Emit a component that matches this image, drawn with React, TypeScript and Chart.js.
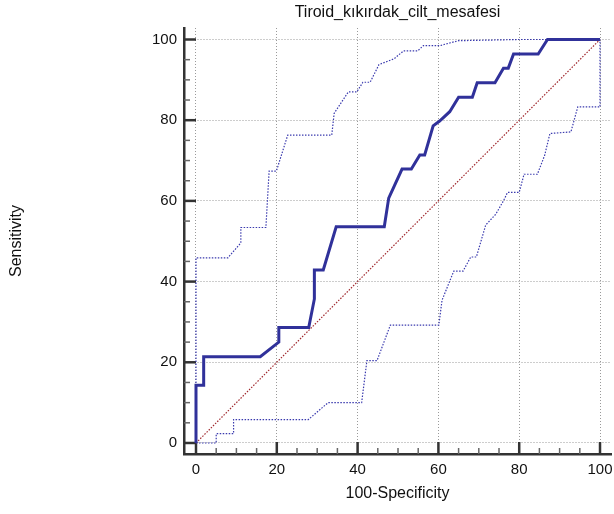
import React, { useEffect, useRef } from "react";
import { Chart, registerables } from "chart.js";

Chart.register(...registerables);

const chartTitle = "Tiroid_kıkırdak_cilt_mesafesi";
const xAxisTitle = "100-Specificity";
const yAxisTitle = "Sensitivity";
const tickValues = [0, 20, 40, 60, 80, 100];

// ROC curve (100-Specificity, Sensitivity)
const rocX = [0, 0, 1.9, 1.9, 15.9, 20.5, 20.5, 27.9, 29.3, 29.3, 31.5, 34.7, 46.6, 47.7, 51.0, 53.3, 55.4, 56.6, 58.7, 60.3, 62.8, 65.0, 68.4, 69.6, 74.0, 76.1, 77.3, 78.6, 84.7, 87.0, 100];
const rocY = [0, 14.3, 14.3, 21.4, 21.4, 25.0, 28.6, 28.6, 35.7, 42.9, 42.9, 53.6, 53.6, 60.7, 67.9, 67.9, 71.4, 71.4, 78.6, 79.8, 82.1, 85.7, 85.7, 89.3, 89.3, 92.9, 92.9, 96.4, 96.4, 100, 100];

// Upper confidence bound
const upperX = [0, 0, 7.9, 11.1, 11.1, 17.3, 18.1, 19.9, 22.7, 33.6, 34.2, 37.7, 39.8, 41.3, 43.1, 45.3, 49.0, 51.4, 54.9, 56.3, 60.5, 63.0, 65.0, 80.0, 100];
const upperY = [0, 45.9, 45.9, 49.6, 53.4, 53.4, 67.4, 67.4, 76.3, 76.3, 81.7, 87.0, 87.0, 89.4, 89.4, 93.8, 95.2, 97.2, 97.2, 98.5, 98.5, 99.2, 99.7, 100, 100];

// Lower confidence bound
const lowerX = [0, 5.0, 5.0, 9.3, 9.3, 27.8, 32.7, 41.0, 42.3, 44.8, 48.1, 60.1, 60.9, 63.8, 66.1, 68.0, 69.4, 71.7, 74.2, 76.2, 77.1, 80.0, 81.2, 84.5, 86.3, 87.6, 92.8, 94.5, 100, 100];
const lowerY = [0, 0, 2.3, 2.3, 5.8, 5.8, 10.0, 10.0, 20.4, 20.4, 29.2, 29.2, 35.4, 42.6, 42.6, 46.1, 46.1, 54.0, 56.7, 60.2, 62.1, 62.1, 66.6, 66.6, 71.3, 76.7, 77.1, 83.3, 83.3, 100];

// Reference diagonal
const diagX = [0, 100];
const diagY = [0, 100];

const toPoints = (xs: number[], ys: number[]) => xs.map((x, i) => ({ x, y: ys[i] }));

const FONT = "'Liberation Sans', Arial, Helvetica, sans-serif";
const TEXT = "#111";

const axisTicksPlugin = {
  id: "axisTicks",
  beforeDatasetsDraw(chart: any) {
    const { ctx, chartArea, scales } = chart;
    const xs = scales.x;
    const ys = scales.y;
    ctx.save();
    for (let v = 0; v <= 100; v += 5) {
      const major = v % 20 === 0;
      ctx.strokeStyle = major ? "#333" : "#666";
      ctx.lineWidth = major ? 2.5 : 1.5;
      const len = major ? 12 : 6;
      const px = xs.getPixelForValue(v);
      ctx.beginPath();
      ctx.moveTo(px, chartArea.bottom);
      ctx.lineTo(px, chartArea.bottom - len);
      ctx.stroke();
      const py = ys.getPixelForValue(v);
      ctx.beginPath();
      ctx.moveTo(chartArea.left, py);
      ctx.lineTo(chartArea.left + len, py);
      ctx.stroke();
    }
    ctx.restore();
  },
};

export default function App() {
  const ref = useRef<HTMLCanvasElement | null>(null);

  useEffect(() => {
    if (!ref.current) return;
    const tickFont = { family: FONT, size: 15 };
    const titleFont = { family: FONT, size: 16, weight: "normal" as const };
    const gridOpts = { color: "#9a9a9a", lineWidth: 1, drawTicks: false };
    const borderOpts = { display: true, color: "#333", width: 2.5, dash: [1, 2] };
    const chart = new Chart(ref.current, {
      type: "scatter",
      data: {
        datasets: [
          {
            data: toPoints(rocX, rocY),
            showLine: true,
            borderColor: "#30319a",
            borderWidth: 3,
            pointRadius: 0,
            tension: 0,
            order: 0,
          },
          {
            data: toPoints(upperX, upperY),
            showLine: true,
            borderColor: "#3a3aae",
            borderWidth: 1.2,
            borderDash: [1.5, 1.5],
            pointRadius: 0,
            tension: 0,
            order: 1,
          },
          {
            data: toPoints(lowerX, lowerY),
            showLine: true,
            borderColor: "#3a3aae",
            borderWidth: 1.2,
            borderDash: [1.5, 1.5],
            pointRadius: 0,
            tension: 0,
            order: 1,
          },
          {
            data: toPoints(diagX, diagY),
            showLine: true,
            borderColor: "#a0282d",
            borderWidth: 1.2,
            borderDash: [1.5, 1.5],
            pointRadius: 0,
            tension: 0,
            order: 2,
          },
        ],
      },
      options: {
        responsive: false,
        animation: false,
        devicePixelRatio: 1,
        layout: { padding: { left: 0, right: 3, top: 0, bottom: 0 } },
        plugins: {
          legend: { display: false },
          tooltip: { enabled: false },
          title: {
            display: true,
            text: chartTitle,
            fullSize: false,
            color: TEXT,
            font: titleFont,
            padding: { top: 3, bottom: 5.8 },
          },
        },
        scales: {
          x: {
            type: "linear",
            min: -2.97,
            max: 102.72,
            afterBuildTicks: (s: any) => {
              s.ticks = tickValues.map((v) => ({ value: v }));
            },
            afterFit: (s: any) => {
              s.height = 60;
              s.paddingLeft = 0;
              s.paddingRight = 0;
            },
            grid: gridOpts,
            border: borderOpts,
            ticks: {
              padding: 7,
              color: TEXT,
              font: tickFont,
              autoSkip: false,
              maxRotation: 0,
              callback: (v: any) => String(v),
            },
            title: {
              display: true,
              text: xAxisTitle,
              color: TEXT,
              font: titleFont,
              padding: { top: 0, bottom: 10.4 },
            },
          },
          y: {
            type: "linear",
            min: -2.73,
            max: 102.85,
            afterBuildTicks: (s: any) => {
              s.ticks = tickValues.map((v) => ({ value: v }));
            },
            afterFit: (s: any) => {
              s.width = 184;
              s.paddingTop = 0;
              s.paddingBottom = 0;
            },
            grid: gridOpts,
            border: borderOpts,
            ticks: {
              padding: 7,
              color: TEXT,
              font: tickFont,
              autoSkip: false,
              callback: (v: any) => String(v),
            },
            title: {
              display: true,
              text: yAxisTitle,
              color: TEXT,
              font: titleFont,
              padding: { top: 7, bottom: 0 },
            },
          },
        },
      },
      plugins: [axisTicksPlugin],
    });
    return () => chart.destroy();
  }, []);

  return (
    <div style={{ position: "absolute", left: 0, top: 0, width: 614, height: 514, background: "#fff" }}>
      <canvas ref={ref} width={614} height={514} style={{ display: "block" }} />
    </div>
  );
}
